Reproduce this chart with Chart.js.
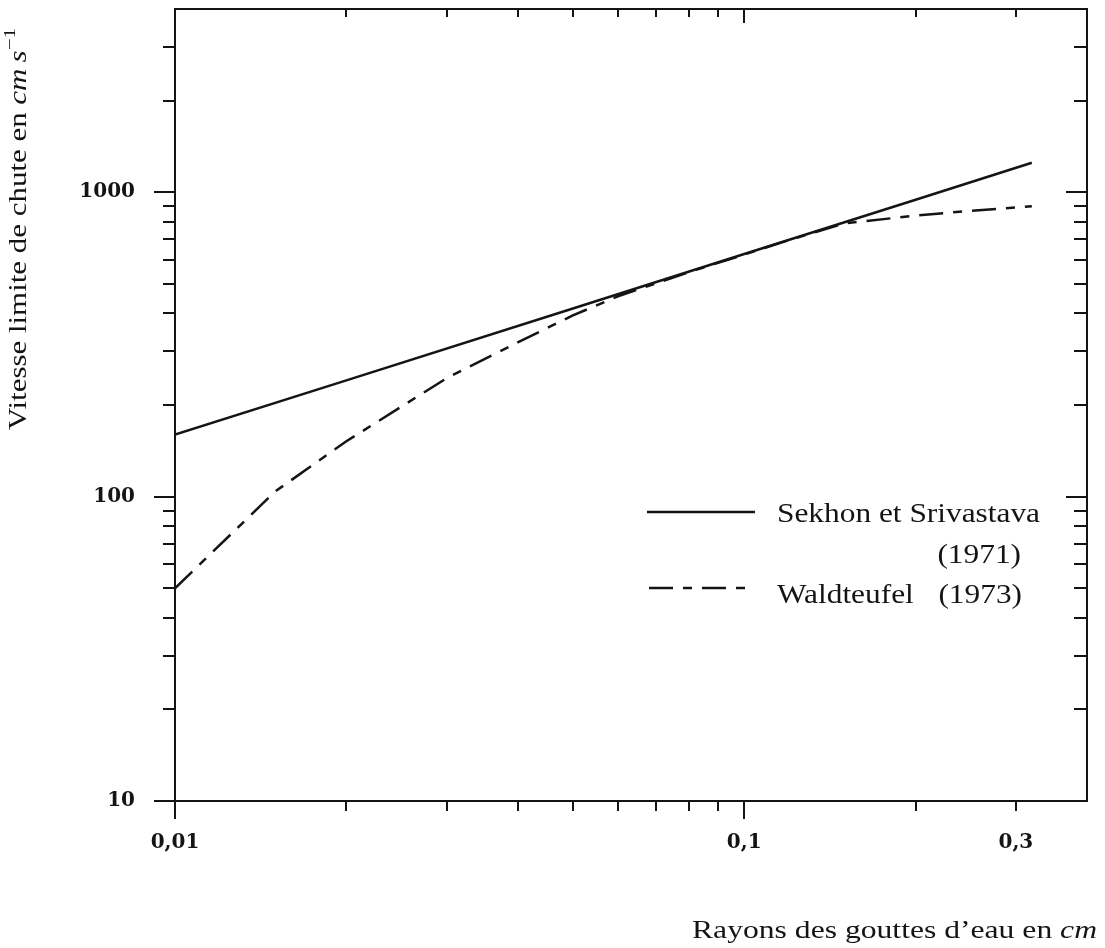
<!DOCTYPE html>
<html>
<head>
<meta charset="utf-8">
<script src="https://cdn.jsdelivr.net/npm/chart.js@4/dist/chart.umd.min.js"></script>
<style>
  html, body { margin: 0; padding: 0; background: #ffffff; }
  canvas { display: block; }
</style>
</head>
<body>
<canvas id="chart" width="1105" height="948"></canvas>
<script>
// Terminal fall speed of water drops versus drop radius (log-log)
const radiusSekhon = [0.01, 0.02, 0.05, 0.1, 0.2, 0.32];
const speedSekhon  = [160, 241, 415, 627, 945, 1250];

const radiusWaldteufel = [0.01, 0.015, 0.02, 0.03, 0.04, 0.05, 0.06, 0.08, 0.1, 0.12, 0.15, 0.2, 0.25, 0.32];
const speedWaldteufel  = [50, 104, 152, 245, 321, 394, 455, 547, 624, 697, 790, 838, 869, 899];

const seriesNames = ['Sekhon et Srivastava', 'Waldteufel'];
const seriesYears = ['(1971)', '(1973)'];

const xTickValues = [0.01, 0.02, 0.03, 0.04, 0.05, 0.06, 0.07, 0.08, 0.09, 0.1, 0.2, 0.3];
const xLabelValues = [0.01, 0.1, 0.3];
const xLabelTexts  = ['0,01', '0,1', '0,3'];

const yTickValues = [10, 20, 30, 40, 50, 60, 70, 80, 90, 100, 200, 300, 400, 500, 600, 700, 800, 900, 1000, 2000, 3000];
const yLabelValues = [10, 100, 1000];
const yLabelTexts  = ['10', '100', '1000'];

const INK = '#141414';
const SERIF = '"Liberation Serif", "DejaVu Serif", serif';
const TICK_FONT = { family: '"DejaVu Serif", serif', size: 20, weight: 'bold' };

const near = (a, b) => Math.abs(Math.log10(a) - Math.log10(b)) < 1e-6;
const isDecade = v => near(v, Math.pow(10, Math.round(Math.log10(v))));
const labelFor = (v, values, texts) => {
  const i = values.findIndex(w => near(v, w));
  return i >= 0 ? texts[i] : '';
};

// Draw a run of text pieces (each with its own font) fitted to a given width
function drawPieces(ctx, pieces, x, y, width, align) {
  let total = 0;
  pieces.forEach(p => { ctx.font = p.font; total += ctx.measureText(p.text).width; });
  const k = width ? width / total : 1;
  ctx.save();
  const startX = align === 'right' ? x - total * k : x;
  ctx.translate(startX, y);
  ctx.scale(k, 1);
  let cx = 0;
  pieces.forEach(p => {
    ctx.font = p.font;
    ctx.fillText(p.text, cx, p.dy || 0);
    cx += ctx.measureText(p.text).width;
  });
  ctx.restore();
  return k;
}

const frameAndDecor = {
  id: 'frameAndDecor',
  afterDatasetsDraw(chart) {
    const { ctx, chartArea: a, scales: { x, y } } = chart;
    ctx.save();
    ctx.strokeStyle = INK;
    ctx.fillStyle = INK;
    ctx.lineWidth = 2;
    ctx.lineCap = 'square';

    // frame
    ctx.strokeRect(a.left, a.top, a.right - a.left, a.bottom - a.top);

    // ticks: outward on bottom/left, inward on top/right
    ctx.beginPath();
    xTickValues.forEach(v => {
      const px = Math.round(x.getPixelForValue(v));
      const major = isDecade(v);
      ctx.moveTo(px, a.bottom); ctx.lineTo(px, a.bottom + (major ? 17 : 9));
      ctx.moveTo(px, a.top);    ctx.lineTo(px, a.top + (major ? 13 : 7));
    });
    yTickValues.forEach(v => {
      const py = Math.round(y.getPixelForValue(v));
      const major = isDecade(v);
      ctx.moveTo(a.left, py);  ctx.lineTo(a.left - (major ? 20 : 11), py);
      ctx.moveTo(a.right, py); ctx.lineTo(a.right - (major ? 20 : 12), py);
    });
    ctx.stroke();

    // legend
    const ds = chart.data.datasets;
    ctx.lineWidth = 2.5;
    ctx.lineCap = 'butt';
    const rows = [
      { line: [647, 755, 512] },
      { line: [649, 745, 588] }
    ];
    rows.forEach((r, i) => {
      ctx.setLineDash(ds[i].borderDash || []);
      ctx.beginPath();
      ctx.moveTo(r.line[0], r.line[2]);
      ctx.lineTo(r.line[1], r.line[2]);
      ctx.stroke();
    });
    ctx.setLineDash([]);
    const legendFont = '28px ' + SERIF;
    ctx.textBaseline = 'alphabetic';
    const k = drawPieces(ctx, [{ text: seriesNames[0], font: legendFont }], 777, 522, 263, 'left');
    ctx.font = legendFont;
    const wYear0 = ctx.measureText(seriesYears[0]).width * k;
    drawPieces(ctx, [{ text: seriesYears[0], font: legendFont }], 1021, 563, wYear0, 'right');
    ctx.font = legendFont;
    const wName1 = ctx.measureText(seriesNames[1]).width * k;
    drawPieces(ctx, [{ text: seriesNames[1], font: legendFont }], 777, 603, wName1, 'left');
    ctx.font = legendFont;
    const wYear1 = ctx.measureText(seriesYears[1]).width * k;
    drawPieces(ctx, [{ text: seriesYears[1], font: legendFont }], 1022, 603, wYear1, 'right');

    // x axis title
    drawPieces(ctx, [
      { text: 'Rayons des gouttes d\u2019eau en ', font: '26px ' + SERIF },
      { text: 'cm', font: 'italic 26px ' + SERIF }
    ], 692, 938, 405, 'left');

    // y axis title (rotated)
    ctx.save();
    ctx.translate(26, 430);
    ctx.rotate(-Math.PI / 2);
    drawPieces(ctx, [
      { text: 'Vitesse limite de chute en ', font: '25px ' + SERIF },
      { text: 'cm\u2009s', font: 'italic 25px ' + SERIF },
      { text: '\u22121', font: '17px ' + SERIF, dy: -11 }
    ], 0, 0, 402, 'left');
    ctx.restore();

    ctx.restore();
  }
};

const toPoints = (xs, ys) => xs.map((r, i) => ({ x: r, y: ys[i] }));

new Chart(document.getElementById('chart'), {
  type: 'scatter',
  data: {
    datasets: [
      {
        label: seriesNames[0] + ' ' + seriesYears[0],
        data: toPoints(radiusSekhon, speedSekhon),
        showLine: true,
        borderColor: INK,
        borderWidth: 2.5,
        pointRadius: 0,
        tension: 0
      },
      {
        label: seriesNames[1] + ' ' + seriesYears[1],
        data: toPoints(radiusWaldteufel, speedWaldteufel),
        showLine: true,
        borderColor: INK,
        borderWidth: 2.5,
        borderDash: [24, 10, 9, 10],
        pointRadius: 0,
        tension: 0
      }
    ]
  },
  options: {
    responsive: false,
    animation: false,
    devicePixelRatio: 1,
    layout: { padding: { top: 9, right: 18, left: 0, bottom: 0 } },
    plugins: {
      legend: { display: false },
      tooltip: { enabled: false }
    },
    scales: {
      x: {
        type: 'logarithmic',
        min: 0.01,
        max: 0.4,
        grid: { display: false, drawTicks: false },
        border: { display: false },
        afterBuildTicks(scale) { scale.ticks = xTickValues.map(v => ({ value: v })); },
        afterFit(scale) {
          scale.height = 147;
          scale.paddingLeft = 0; scale.paddingRight = 0;
          scale.paddingTop = 0; scale.paddingBottom = 0;
        },
        ticks: {
          autoSkip: false,
          maxRotation: 0,
          padding: 30,
          color: INK,
          font: TICK_FONT,
          callback: v => labelFor(v, xLabelValues, xLabelTexts)
        }
      },
      y: {
        type: 'logarithmic',
        min: 10,
        max: 4000,
        grid: { display: false, drawTicks: false },
        border: { display: false },
        afterBuildTicks(scale) { scale.ticks = yTickValues.map(v => ({ value: v })); },
        afterFit(scale) {
          scale.width = 175;
          scale.paddingLeft = 0; scale.paddingRight = 0;
          scale.paddingTop = 0; scale.paddingBottom = 0;
        },
        ticks: {
          autoSkip: false,
          padding: 40,
          color: INK,
          font: TICK_FONT,
          callback: v => labelFor(v, yLabelValues, yLabelTexts)
        }
      }
    }
  },
  plugins: [frameAndDecor]
});
</script>
</body>
</html>
